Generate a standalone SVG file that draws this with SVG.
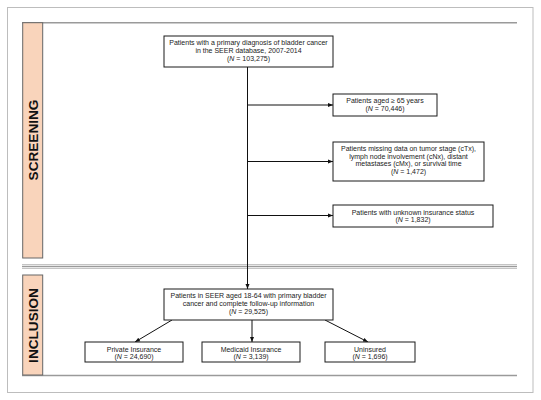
<svg xmlns="http://www.w3.org/2000/svg" width="541" height="400" viewBox="0 0 541 400">
<defs>
<marker id="ah" viewBox="0 0 10 10" refX="10" refY="5" markerWidth="5" markerHeight="5" orient="auto" markerUnits="userSpaceOnUse"><path d="M0,1 L10,5 L0,9 z" fill="#111"/></marker>
<style>
.box{fill:#fff;stroke:#1a1a1a;stroke-width:1}
.band{fill:#f9d4bb;stroke:#666;stroke-width:1}
.t{font-family:"Liberation Sans",Arial,sans-serif;font-size:7px;fill:#222;text-anchor:middle}
.lbl{font-family:"Liberation Sans",Arial,sans-serif;font-size:13.6px;font-weight:bold;fill:#111;text-anchor:middle}
.c{stroke:#111;stroke-width:1;fill:none;marker-end:url(#ah)}
.rule{stroke:#9a9a9a;stroke-width:1.5}
.rule2{stroke:#c4c4c4;stroke-width:1}
</style>
</defs>
<rect x="0" y="0" width="541" height="400" fill="#fff"/>
<rect x="7.5" y="7.5" width="525.5" height="385" fill="#fff" stroke="#bdbdbd" stroke-width="1"/>

<g id="panels">
<line class="rule" x1="22" y1="22.8" x2="517" y2="22.8"/>
<line class="rule2" x1="22" y1="264.5" x2="517" y2="264.5"/>
<line class="rule" x1="22" y1="266.5" x2="517" y2="266.5"/>
<line class="rule2" x1="22" y1="268.5" x2="517" y2="268.5"/>
<line class="rule" x1="22" y1="375.5" x2="517" y2="375.5"/>
</g>

<g id="screening-label">
<rect class="band" x="22.7" y="22.7" width="20" height="235.3"/>
<text class="lbl" transform="translate(37.8,140) rotate(-90)">SCREENING</text>
</g>
<g id="inclusion-label">
<rect class="band" x="22.7" y="275" width="20" height="100"/>
<text class="lbl" transform="translate(37.8,325.5) rotate(-90)">INCLUSION</text>
</g>

<g id="connectors">
<line class="c" x1="247.5" y1="67" x2="247.5" y2="289"/>
<line class="c" x1="247.5" y1="105" x2="333" y2="105"/>
<line class="c" x1="247.5" y1="161.5" x2="333" y2="161.5"/>
<line class="c" x1="247.5" y1="215.5" x2="333" y2="215.5"/>
<line class="c" x1="252" y1="320" x2="252" y2="342"/>
<line class="c" x1="172" y1="320" x2="135" y2="342"/>
<line class="c" x1="325" y1="320" x2="368" y2="342"/>
</g>

<g id="n-all">
<rect class="box" x="164" y="36" width="169" height="31"/>
<text class="t" x="248.5" y="45">Patients with a primary diagnosis of bladder cancer</text>
<text class="t" x="248.5" y="53">in the SEER database, 2007-2014</text>
<text class="t" x="248.5" y="61">(<tspan font-style="italic">N</tspan> = 103,275)</text>
</g>

<g id="n-age">
<rect class="box" x="333" y="94" width="104" height="22"/>
<text class="t" x="385" y="103">Patients aged ≥ 65 years</text>
<text class="t" x="385" y="111">(<tspan font-style="italic">N</tspan> = 70,446)</text>
</g>

<g id="n-missing">
<rect class="box" x="333" y="142" width="151" height="39"/>
<text class="t" x="408.5" y="151">Patients missing data on tumor stage (cTx),</text>
<text class="t" x="408.5" y="158.5">lymph node involvement (cNx), distant</text>
<text class="t" x="408.5" y="166">metastases (cMx), or survival time</text>
<text class="t" x="408.5" y="173.5">(<tspan font-style="italic">N</tspan> = 1,472)</text>
</g>

<g id="n-unknown">
<rect class="box" x="333" y="205" width="160" height="22"/>
<text class="t" x="413" y="214.5">Patients with unknown insurance status</text>
<text class="t" x="413" y="222">(<tspan font-style="italic">N</tspan> = 1,832)</text>
</g>

<g id="n-included">
<rect class="box" x="164" y="289" width="169" height="31"/>
<text class="t" x="248.5" y="298">Patients in SEER aged 18-64 with primary bladder</text>
<text class="t" x="248.5" y="306">cancer and complete follow-up information</text>
<text class="t" x="248.5" y="314">(<tspan font-style="italic">N</tspan> = 29,525)</text>
</g>

<g id="n-private">
<rect class="box" x="85" y="342" width="98" height="20"/>
<text class="t" x="134" y="351.5">Private Insurance</text>
<text class="t" x="134" y="359">(<tspan font-style="italic">N</tspan> = 24,690)</text>
</g>

<g id="n-medicaid">
<rect class="box" x="202" y="342" width="98" height="20"/>
<text class="t" x="251" y="351.5">Medicaid Insurance</text>
<text class="t" x="251" y="359">(<tspan font-style="italic">N</tspan> = 3,139)</text>
</g>

<g id="n-uninsured">
<rect class="box" x="325" y="342" width="90" height="20"/>
<text class="t" x="370" y="351.5">Uninsured</text>
<text class="t" x="370" y="359">(<tspan font-style="italic">N</tspan> = 1,696)</text>
</g>
</svg>
